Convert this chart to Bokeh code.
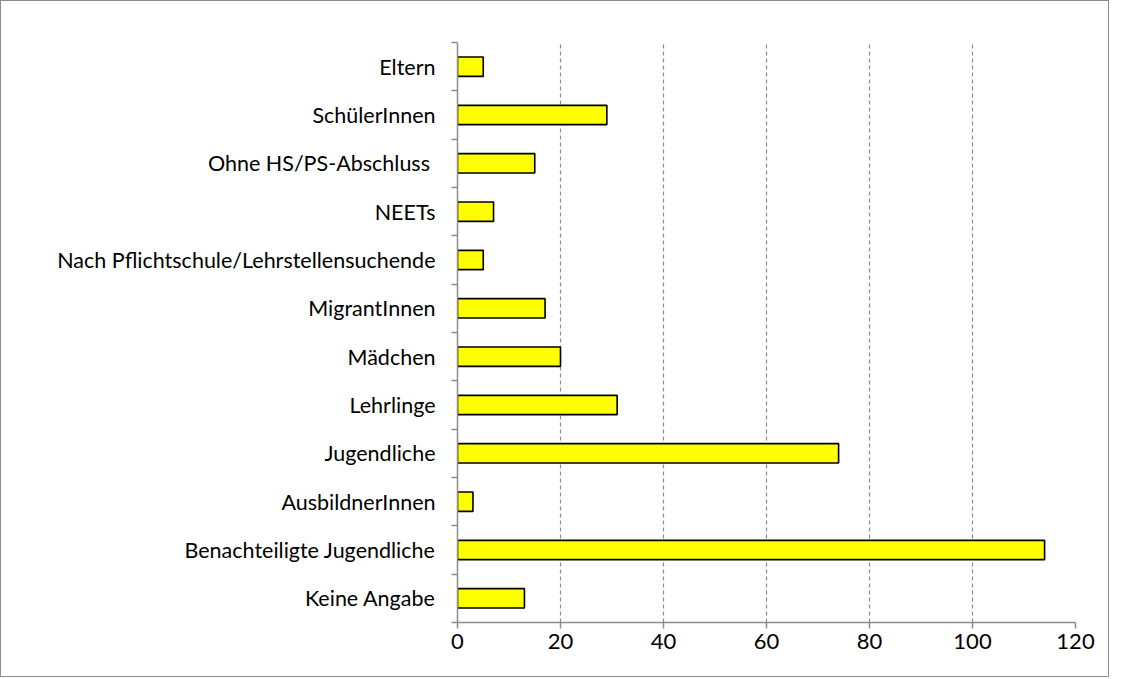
from bokeh.plotting import figure
from bokeh.models import FixedTicker, ColumnDataSource
from bokeh.embed import file_html
from bokeh.resources import INLINE

# categories listed from top to bottom
categories = ["Eltern", "SchülerInnen", "Ohne HS/PS-Abschluss ", "NEETs",
              "Nach Pflichtschule/Lehrstellensuchende", "MigrantInnen", "Mädchen",
              "Lehrlinge", "Jugendliche", "AusbildnerInnen",
              "Benachteiligte Jugendliche", "Keine Angabe"]
values = [5, 29, 15, 7, 5, 17, 20, 31, 74, 3, 114, 13]
x_ticks = [0, 20, 40, 60, 80, 100, 120]

n = len(categories)
ypos = [n - 1 - i + 0.5 for i in range(n)]
src = ColumnDataSource(dict(y=ypos, v=values, c=categories))

p = figure(width=1109, height=677, output_backend="svg", toolbar_location=None,
           x_range=(0, 120), y_range=(0, n),
           min_border_left=456, min_border_right=35, min_border_top=41, min_border_bottom=56)
p.styles = {"border": "1px solid #8c8c8c"}
p.outline_line_color = None
p.background_fill_color = "white"

p.hbar(y="y", right="v", left=0, height=0.4, source=src,
       fill_color="#FFFF00", line_color="black", line_width=1.6)

# x axis
p.xaxis.ticker = FixedTicker(ticks=x_ticks)
p.xaxis.axis_line_color = "#8c8c8c"
p.xaxis.axis_line_width = 1.5
p.xaxis.major_tick_line_color = "#8c8c8c"
p.xaxis.major_tick_line_width = 1.5
p.xaxis.major_tick_out = 6
p.xaxis.major_tick_in = 0
p.xaxis.minor_tick_line_color = None
p.xaxis.major_label_text_font = "Lato"
p.xaxis.major_label_text_font_size = "22px"
p.xaxis.major_label_text_color = "black"
p.xaxis.major_label_standoff = 5

# y axis: labels at band centres, tick marks at band boundaries
p.yaxis.ticker = FixedTicker(ticks=ypos, minor_ticks=list(range(n + 1)))
p.yaxis.major_label_overrides = {y: c for y, c in zip(ypos, categories)}
p.yaxis.axis_line_color = "#8c8c8c"
p.yaxis.axis_line_width = 1.5
p.yaxis.major_tick_line_color = None
p.yaxis.minor_tick_line_color = "#8c8c8c"
p.yaxis.minor_tick_line_width = 1.5
p.yaxis.minor_tick_out = 6
p.yaxis.minor_tick_in = 0
p.yaxis.major_label_text_font = "Lato"
p.yaxis.major_label_text_font_size = "21.5px"
p.yaxis.major_label_text_color = "black"
p.yaxis.major_label_standoff = 16

p.ygrid.grid_line_color = None
p.xgrid.ticker = FixedTicker(ticks=x_ticks[1:])
p.xgrid.grid_line_color = "#8c8c8c"
p.xgrid.grid_line_dash = "4 3"
p.xgrid.grid_line_width = 1.2

open("out.html", "w").write(file_html(p, INLINE))
